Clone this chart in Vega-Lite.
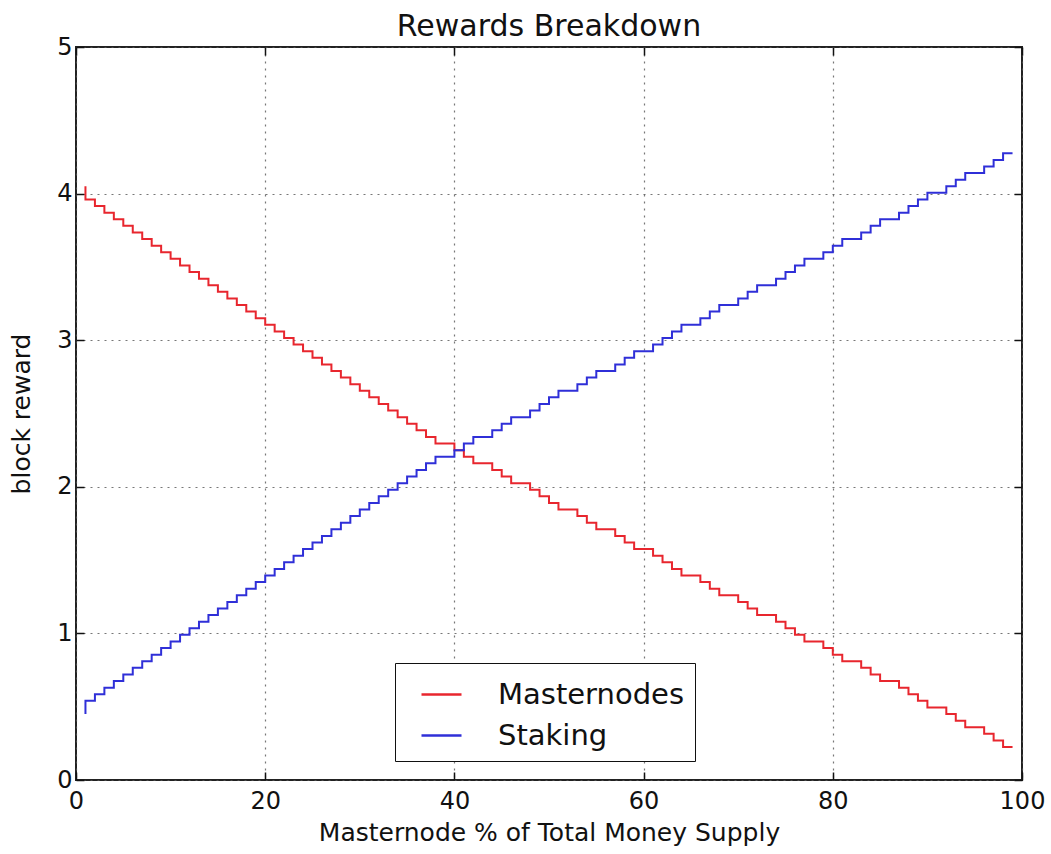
{
  "$schema": "https://vega.github.io/schema/vega-lite/v6.json",
  "width": 946,
  "height": 733,
  "autosize": {"type": "none"},
  "padding": {"left": 76, "top": 47, "right": 29, "bottom": 74},
  "background": "white",
  "title": {"text": "Rewards Breakdown", "fontSize": 30, "font": "DejaVu Sans", "fontWeight": "normal", "color": "#111", "offset": -7},
  "data": {"values": [
    {"x":1,"Masternodes":4.05,"Staking":0.45},
    {"x":2,"Masternodes":3.96,"Staking":0.54},
    {"x":3,"Masternodes":3.915,"Staking":0.585},
    {"x":4,"Masternodes":3.87,"Staking":0.63},
    {"x":5,"Masternodes":3.825,"Staking":0.675},
    {"x":6,"Masternodes":3.78,"Staking":0.72},
    {"x":7,"Masternodes":3.735,"Staking":0.765},
    {"x":8,"Masternodes":3.69,"Staking":0.81},
    {"x":9,"Masternodes":3.645,"Staking":0.855},
    {"x":10,"Masternodes":3.6,"Staking":0.9},
    {"x":11,"Masternodes":3.555,"Staking":0.945},
    {"x":12,"Masternodes":3.51,"Staking":0.99},
    {"x":13,"Masternodes":3.465,"Staking":1.035},
    {"x":14,"Masternodes":3.42,"Staking":1.08},
    {"x":15,"Masternodes":3.375,"Staking":1.125},
    {"x":16,"Masternodes":3.33,"Staking":1.17},
    {"x":17,"Masternodes":3.285,"Staking":1.215},
    {"x":18,"Masternodes":3.24,"Staking":1.26},
    {"x":19,"Masternodes":3.195,"Staking":1.305},
    {"x":20,"Masternodes":3.15,"Staking":1.35},
    {"x":21,"Masternodes":3.105,"Staking":1.395},
    {"x":22,"Masternodes":3.06,"Staking":1.44},
    {"x":23,"Masternodes":3.015,"Staking":1.485},
    {"x":24,"Masternodes":2.97,"Staking":1.53},
    {"x":25,"Masternodes":2.925,"Staking":1.575},
    {"x":26,"Masternodes":2.88,"Staking":1.62},
    {"x":27,"Masternodes":2.835,"Staking":1.665},
    {"x":28,"Masternodes":2.79,"Staking":1.71},
    {"x":29,"Masternodes":2.745,"Staking":1.755},
    {"x":30,"Masternodes":2.7,"Staking":1.8},
    {"x":31,"Masternodes":2.655,"Staking":1.845},
    {"x":32,"Masternodes":2.61,"Staking":1.89},
    {"x":33,"Masternodes":2.565,"Staking":1.935},
    {"x":34,"Masternodes":2.52,"Staking":1.98},
    {"x":35,"Masternodes":2.475,"Staking":2.025},
    {"x":36,"Masternodes":2.43,"Staking":2.07},
    {"x":37,"Masternodes":2.385,"Staking":2.115},
    {"x":38,"Masternodes":2.34,"Staking":2.16},
    {"x":39,"Masternodes":2.295,"Staking":2.205},
    {"x":40,"Masternodes":2.295,"Staking":2.205},
    {"x":41,"Masternodes":2.25,"Staking":2.25},
    {"x":42,"Masternodes":2.205,"Staking":2.295},
    {"x":43,"Masternodes":2.16,"Staking":2.34},
    {"x":44,"Masternodes":2.16,"Staking":2.34},
    {"x":45,"Masternodes":2.115,"Staking":2.385},
    {"x":46,"Masternodes":2.07,"Staking":2.43},
    {"x":47,"Masternodes":2.025,"Staking":2.475},
    {"x":48,"Masternodes":2.025,"Staking":2.475},
    {"x":49,"Masternodes":1.98,"Staking":2.52},
    {"x":50,"Masternodes":1.935,"Staking":2.565},
    {"x":51,"Masternodes":1.89,"Staking":2.61},
    {"x":52,"Masternodes":1.845,"Staking":2.655},
    {"x":53,"Masternodes":1.845,"Staking":2.655},
    {"x":54,"Masternodes":1.8,"Staking":2.7},
    {"x":55,"Masternodes":1.755,"Staking":2.745},
    {"x":56,"Masternodes":1.71,"Staking":2.79},
    {"x":57,"Masternodes":1.71,"Staking":2.79},
    {"x":58,"Masternodes":1.665,"Staking":2.835},
    {"x":59,"Masternodes":1.62,"Staking":2.88},
    {"x":60,"Masternodes":1.575,"Staking":2.925},
    {"x":61,"Masternodes":1.575,"Staking":2.925},
    {"x":62,"Masternodes":1.53,"Staking":2.97},
    {"x":63,"Masternodes":1.485,"Staking":3.015},
    {"x":64,"Masternodes":1.44,"Staking":3.06},
    {"x":65,"Masternodes":1.395,"Staking":3.105},
    {"x":66,"Masternodes":1.395,"Staking":3.105},
    {"x":67,"Masternodes":1.35,"Staking":3.15},
    {"x":68,"Masternodes":1.305,"Staking":3.195},
    {"x":69,"Masternodes":1.26,"Staking":3.24},
    {"x":70,"Masternodes":1.26,"Staking":3.24},
    {"x":71,"Masternodes":1.215,"Staking":3.285},
    {"x":72,"Masternodes":1.17,"Staking":3.33},
    {"x":73,"Masternodes":1.125,"Staking":3.375},
    {"x":74,"Masternodes":1.125,"Staking":3.375},
    {"x":75,"Masternodes":1.08,"Staking":3.42},
    {"x":76,"Masternodes":1.035,"Staking":3.465},
    {"x":77,"Masternodes":0.99,"Staking":3.51},
    {"x":78,"Masternodes":0.945,"Staking":3.555},
    {"x":79,"Masternodes":0.945,"Staking":3.555},
    {"x":80,"Masternodes":0.9,"Staking":3.6},
    {"x":81,"Masternodes":0.855,"Staking":3.645},
    {"x":82,"Masternodes":0.81,"Staking":3.69},
    {"x":83,"Masternodes":0.81,"Staking":3.69},
    {"x":84,"Masternodes":0.765,"Staking":3.735},
    {"x":85,"Masternodes":0.72,"Staking":3.78},
    {"x":86,"Masternodes":0.675,"Staking":3.825},
    {"x":87,"Masternodes":0.675,"Staking":3.825},
    {"x":88,"Masternodes":0.63,"Staking":3.87},
    {"x":89,"Masternodes":0.585,"Staking":3.915},
    {"x":90,"Masternodes":0.54,"Staking":3.96},
    {"x":91,"Masternodes":0.495,"Staking":4.005},
    {"x":92,"Masternodes":0.495,"Staking":4.005},
    {"x":93,"Masternodes":0.45,"Staking":4.05},
    {"x":94,"Masternodes":0.405,"Staking":4.095},
    {"x":95,"Masternodes":0.36,"Staking":4.14},
    {"x":96,"Masternodes":0.36,"Staking":4.14},
    {"x":97,"Masternodes":0.315,"Staking":4.185},
    {"x":98,"Masternodes":0.27,"Staking":4.23},
    {"x":99,"Masternodes":0.225,"Staking":4.275}
  ]},
  "transform": [{"fold": ["Masternodes", "Staking"], "as": ["series", "reward"]}],
  "layer": [
    {
      "mark": {"type": "line", "interpolate": "step-before", "strokeWidth": 2, "clip": true},
      "encoding": {
        "x": {"field": "x", "type": "quantitative", "scale": {"domain": [0, 100], "nice": false, "zero": false},
          "axis": {"orient": "bottom", "title": "Masternode % of Total Money Supply", "values": [0, 20, 40, 60, 80, 100], "grid": true, "labelFlush": false, "labelPadding": 17, "titlePadding": 7}},
        "y": {"field": "reward", "type": "quantitative", "scale": {"domain": [0, 5], "nice": false},
          "axis": {"orient": "left", "title": "block reward", "values": [0, 1, 2, 3, 4, 5], "grid": true, "labelFlush": false, "labelPadding": 12, "titlePadding": 22}},
        "color": {"field": "series", "type": "nominal", "sort": ["Masternodes", "Staking"],
          "scale": {"domain": ["Masternodes", "Staking"], "range": ["#e8262e", "#2f2fd8"]},
          "legend": {"title": null, "orient": "none", "legendX": 319, "legendY": 616}}
      }
    },
    {
      "mark": {"type": "line", "opacity": 0},
      "encoding": {
        "x": {"field": "x", "type": "quantitative", "scale": {"domain": [0, 100], "nice": false, "zero": false},
          "axis": {"orient": "top", "title": null, "values": [0, 20, 40, 60, 80, 100], "labels": false, "grid": false}},
        "y": {"field": "reward", "type": "quantitative", "scale": {"domain": [0, 5], "nice": false},
          "axis": {"orient": "right", "title": null, "values": [0, 1, 2, 3, 4, 5], "labels": false, "grid": false}},
        "detail": {"field": "series"}
      }
    }
  ],
  "resolve": {"axis": {"x": "independent", "y": "independent"}},
  "config": {
    "view": {"stroke": "#222", "strokeWidth": 2},
    "font": "DejaVu Sans",
    "axis": {
      "domain": false,
      "ticks": true,
      "tickSize": -8,
      "tickColor": "#111",
      "tickWidth": 1.5,
      "labelFont": "DejaVu Sans",
      "labelFontSize": 24,
      "labelColor": "#111",
      "titleFont": "DejaVu Sans",
      "titleFontSize": 25,
      "titleFontWeight": "normal",
      "titleColor": "#111",
      "gridColor": "#555",
      "gridDash": [2, 5],
      "gridWidth": 1.2,
      "gridOpacity": 0.8
    },
    "legend": {
      "strokeColor": "#111",
      "fillColor": "white",
      "padding": 10,
      "symbolType": "stroke",
      "symbolSize": 1600,
      "symbolStrokeWidth": 2.5,
      "symbolOffset": 15,
      "labelOffset": 35,
      "labelLimit": 0,
      "labelFont": "DejaVu Sans",
      "labelFontSize": 29,
      "labelColor": "#111",
      "rowPadding": 4,
      "cornerRadius": 0
    }
  }
}
